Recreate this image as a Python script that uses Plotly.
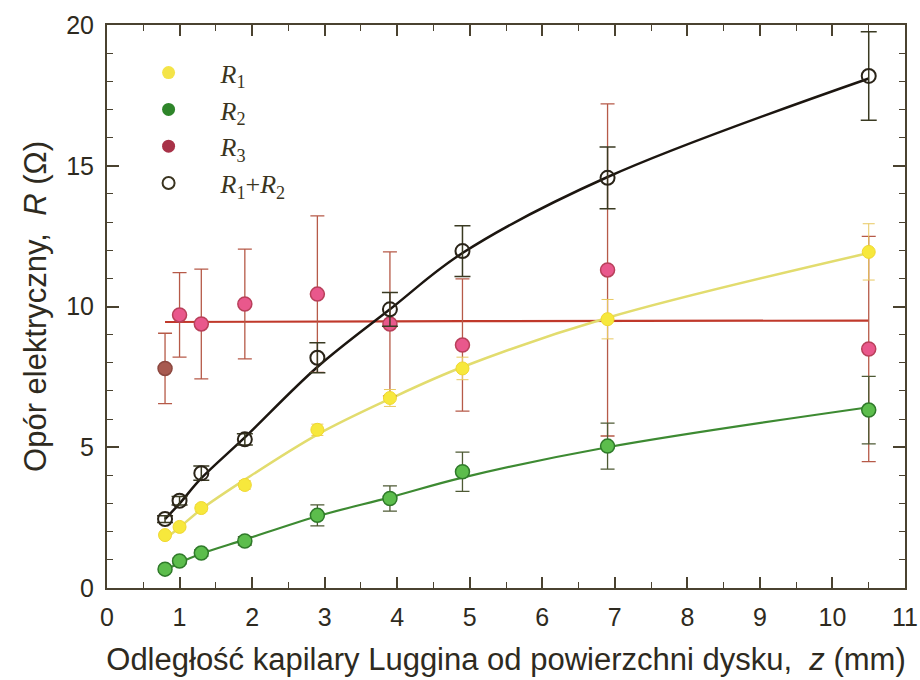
import plotly.graph_objects as go

z = [0.8, 1.0, 1.3, 1.9, 2.9, 3.9, 4.9, 6.9, 10.5]

R1 = [1.88, 2.17, 2.84, 3.66, 5.62, 6.75, 7.8, 9.55, 11.94]
R1_err = [0.1, 0.1, 0.12, 0.15, 0.2, 0.3, 0.4, 0.7, 1.0]
R1_fit = [1.75, 2.15, 2.8, 3.85, 5.45, 6.72, 7.85, 9.6, 11.9]

R2 = [0.67, 0.96, 1.24, 1.67, 2.58, 3.18, 4.13, 5.04, 6.32]
R2_err = [0.1, 0.1, 0.12, 0.15, 0.37, 0.45, 0.7, 0.82, 1.2]
R2_fit = [0.62, 0.9, 1.22, 1.72, 2.55, 3.22, 3.92, 5.0, 6.42]

R3 = [7.8, 9.7, 9.38, 10.09, 10.44, 9.38, 8.63, 11.3, 8.49]
R3_err = [1.25, 1.5, 1.95, 1.95, 2.78, 2.56, 2.35, 5.9, 4.0]
R3_fit = [9.45, 9.45, 9.45, 9.46, 9.46, 9.47, 9.48, 9.49, 9.5]

R12 = [2.45, 3.1, 4.08, 5.28, 8.18, 9.9, 11.97, 14.57, 18.19]
R12_err = [0.12, 0.15, 0.25, 0.2, 0.53, 0.6, 0.9, 1.1, 1.57]
R12_fit = [2.45, 3.0, 3.9, 5.35, 7.85, 9.9, 11.9, 14.6, 18.1]

legend_names = ["<i>R</i><sub>1</sub>", "<i>R</i><sub>2</sub>",
                "<i>R</i><sub>3</sub>", "<i>R</i><sub>1</sub>+<i>R</i><sub>2</sub>"]

x_ticks = list(range(0, 12))
y_ticks = [0, 5, 10, 15, 20]

axis_col = "#4a4230"
text_col = "#2e2a20"
fig = go.Figure()

# fitted lines
fig.add_trace(go.Scatter(x=z, y=R3_fit, mode="lines", line=dict(color="#c0392b", width=2.2),
                         showlegend=False, hoverinfo="skip"))
fig.add_trace(go.Scatter(x=z, y=R1_fit, mode="lines", line=dict(color="#e2dc6e", width=2.5, shape="spline"),
                         showlegend=False, hoverinfo="skip"))
fig.add_trace(go.Scatter(x=z, y=R2_fit, mode="lines", line=dict(color="#3d8a32", width=2.2, shape="spline"),
                         showlegend=False, hoverinfo="skip"))
fig.add_trace(go.Scatter(x=z, y=R12_fit, mode="lines", line=dict(color="#1c1610", width=2.5, shape="spline"),
                         showlegend=False, hoverinfo="skip"))

# data points with error bars
fig.add_trace(go.Scatter(x=z, y=R3, mode="markers",
                         error_y=dict(type="data", array=R3_err, color="#b65a48", thickness=1.3, width=7),
                         marker=dict(size=14, color=["#a85a50"] + ["#e9588c"] * 8,
                                     line=dict(color=["#8c4840"] + ["#b8405a"] * 8, width=1.5)),
                         showlegend=False))
fig.add_trace(go.Scatter(x=z, y=R1, mode="markers",
                         error_y=dict(type="data", array=R1_err, color="#e8c860", thickness=1, width=6),
                         marker=dict(size=13, color="#f7e83c", line=dict(color="#f0d830", width=1)),
                         showlegend=False))
fig.add_trace(go.Scatter(x=z, y=R2, mode="markers",
                         error_y=dict(type="data", array=R2_err, color="#4e5a34", thickness=1.3, width=7),
                         marker=dict(size=14, color="#5cbd4c", line=dict(color="#2f7a2a", width=1.5)),
                         showlegend=False))
fig.add_trace(go.Scatter(x=z, y=R12, mode="markers",
                         error_y=dict(type="data", array=R12_err, color="#3a3a22", thickness=1.5, width=8),
                         marker=dict(size=14, symbol="circle-open", color="#2a2418", line=dict(width=2)),
                         showlegend=False))

# legend entries
leg_styles = [
    dict(size=13, color="#f4e448", line=dict(width=0)),
    dict(size=13, color="#2e852a", line=dict(width=0)),
    dict(size=13, color="#a83248", line=dict(width=0)),
    dict(size=12, symbol="circle-open", color="#3a3420", line=dict(width=2)),
]
for name, st in zip(legend_names, leg_styles):
    fig.add_trace(go.Scatter(x=[None], y=[None], mode="markers", name=name, marker=st))

fig.update_layout(
    width=920, height=680,
    margin=dict(l=107, r=15, t=25, b=92, autoexpand=False),
    paper_bgcolor="white", plot_bgcolor="white",
    showlegend=True,
    legend=dict(x=0.012, y=0.957, xanchor="left", yanchor="top",
                font=dict(family="Liberation Serif", size=26, color="#3a3420"),
                bgcolor="rgba(0,0,0,0)", itemwidth=94, tracegroupgap=0),
    xaxis=dict(range=[0, 11], tickvals=x_ticks, ticks="inside", ticklen=11, tickwidth=1.5,
               tickcolor=axis_col, showline=True, linecolor=axis_col, linewidth=2,
               mirror="allticks", showgrid=False, zeroline=False, ticklabelstandoff=6,
               automargin=False,
               minor=dict(dtick=0.5, ticks="inside", ticklen=6, tickcolor=axis_col, tickwidth=1.2),
               tickfont=dict(family="Liberation Sans", size=25, color=text_col),
               title=dict(text="Odległość kapilary Luggina od powierzchni dysku,  <i>z</i> (mm)",
                          font=dict(family="Liberation Sans", size=31, color=text_col), standoff=18)),
    yaxis=dict(range=[0, 20], tickvals=y_ticks, ticks="inside", ticklen=12, tickwidth=1.5,
               tickcolor=axis_col, showline=True, linecolor=axis_col, linewidth=2,
               mirror="allticks", showgrid=False, zeroline=False, ticklabelstandoff=6,
               automargin=False,
               minor=dict(dtick=1, ticks="inside", ticklen=6, tickcolor=axis_col, tickwidth=1.2),
               tickfont=dict(family="Liberation Sans", size=25, color=text_col),
               title=dict(text="Opór elektryczny,  <i>R</i> (Ω)",
                          font=dict(family="Liberation Sans", size=31, color=text_col), standoff=10)),
)

fig.write_html("out.html")
